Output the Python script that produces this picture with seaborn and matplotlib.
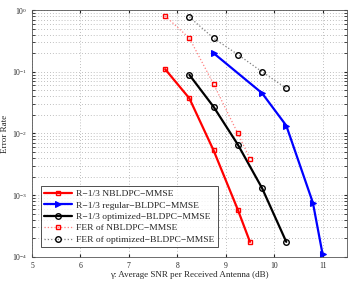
import matplotlib
matplotlib.use("Agg")
import matplotlib.pyplot as plt
import seaborn as sns
import pandas as pd

sns.set_style("ticks")
plt.rcParams['font.family'] = ['Liberation Serif', 'DejaVu Serif']
plt.rcParams['mathtext.fontset'] = 'stix'

# data
snr_nb = [7.75, 8.25, 8.75, 9.25, 9.5]
ber_nb = [0.11, 0.037, 0.0053, 0.00058, 0.000175]
fer_nb = [0.8, 0.35, 0.063, 0.0100, 0.0039]

snr_reg = [8.75, 9.75, 10.25, 10.8, 11.0]
ber_reg = [0.2, 0.045, 0.0134, 0.00075, 0.00011]

snr_opt = [8.25, 8.75, 9.25, 9.75, 10.25]
ber_opt = [0.089, 0.027, 0.0066, 0.0013, 0.000175]
fer_opt = [0.77, 0.35, 0.19, 0.10, 0.054]

labels = ['R\u22121/3 NBLDPC\u2212MMSE', 'R\u22121/3 regular\u2212BLDPC\u2212MMSE',
          'R\u22121/3 optimized\u2212BLDPC\u2212MMSE', 'FER of NBLDPC\u2212MMSE',
          'FER of optimized\u2212BLDPC\u2212MMSE']

fig = plt.figure(figsize=(3.55, 2.87), dpi=100)
ax = fig.add_axes([0.09, 0.105, 0.887, 0.86])

sns.lineplot(x=snr_nb, y=ber_nb, ax=ax, color='red', lw=1.6, marker='s', ms=3.5,
             mfc='none', mec='red', mew=1.0, label=labels[0])
sns.lineplot(x=snr_reg, y=ber_reg, ax=ax, color='blue', lw=1.6, marker='>', ms=5,
             mfc='blue', mec='blue', label=labels[1])
sns.lineplot(x=snr_opt, y=ber_opt, ax=ax, color='black', lw=1.6, marker='o', ms=4,
             mfc='none', mec='black', mew=1.0, label=labels[2])
sns.lineplot(x=snr_nb, y=fer_nb, ax=ax, color='#ff8080', lw=0.9, ls=':', marker='s', ms=3.5,
             mfc='none', mec='red', mew=1.0, label=labels[3])
sns.lineplot(x=snr_opt, y=fer_opt, ax=ax, color='#808080', lw=0.9, ls=':', marker='o', ms=4,
             mfc='none', mec='black', mew=1.0, label=labels[4])

ax.set_yscale('log')
ax.set_xlim(5, 11.5)
ax.set_ylim(1e-4, 1)
ax.set_xticks([5, 6, 7, 8, 9, 10, 11])
ax.grid(True, which='major', ls=(0, (1, 2.5)), lw=0.6, color='#aaaaaa')
ax.grid(True, which='minor', axis='y', ls=(0, (1, 2.5)), lw=0.6, color='#aaaaaa')
ax.tick_params(labelsize=5.5, length=2, direction='in', which='both', top=True, right=True)
for s in ax.spines.values():
    s.set_linewidth(0.6)
    s.set_color('#555555')

ax.set_xlabel('\u03b3: Average SNR per Received Antenna (dB)', fontsize=6.5, labelpad=1)
ax.set_ylabel('Error Rate', fontsize=6.5, labelpad=2)

leg = ax.legend(loc='lower left', bbox_to_anchor=(0.013, 0.02), fontsize=6.8, frameon=True,
                fancybox=False, edgecolor='black', handlelength=3.0, borderpad=0.35,
                labelspacing=0.3, handletextpad=0.4)
leg.get_frame().set_linewidth(0.6)

fig.savefig('out.png', dpi=100)
